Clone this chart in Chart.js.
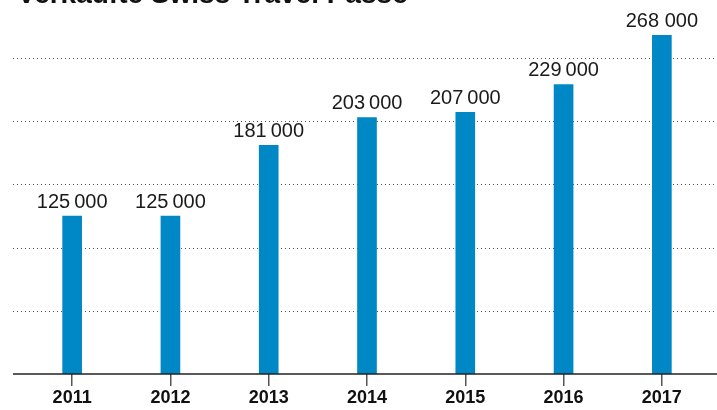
<!DOCTYPE html>
<html>
<head>
<meta charset="utf-8">
<script src="https://cdn.jsdelivr.net/npm/chart.js@4.4.1/dist/chart.umd.min.js"></script>
<style>
  html, body { margin: 0; padding: 0; background: #fff; overflow: hidden; }
  #wrap { position: relative; width: 717px; height: 410px; overflow: hidden; }
  #title { position: absolute; left: 17px; top: -20px; font: bold 28px "Liberation Sans", Arial, sans-serif; line-height: 28px; color: #111; white-space: nowrap; }
  canvas { position: absolute; left: 0; top: 0; }
</style>
</head>
<body>
<div id="wrap">
  <canvas id="c" width="717" height="410"></canvas>
  <div id="title">Verkaufte Swiss Travel Pässe</div>
</div>
<script>
const years = ['2011', '2012', '2013', '2014', '2015', '2016', '2017'];
const passesSold = [125000, 125000, 181000, 203000, 207000, 229000, 268000];
const valueLabels = ['125\u202F000', '125\u202F000', '181\u202F000', '203\u202F000', '207\u202F000', '229\u202F000', '268 000'];
const gridValues = [50000, 100000, 150000, 200000, 250000];

const extras = {
  id: 'extras',
  beforeDatasetsDraw(chart) {
    const ctx = chart.ctx, y = chart.scales.y;
    ctx.save();
    ctx.strokeStyle = '#555';
    ctx.lineWidth = 1;
    ctx.setLineDash([1, 3]);
    gridValues.forEach(v => {
      const py = Math.round(y.getPixelForValue(v)) + 0.5;
      ctx.beginPath(); ctx.moveTo(13, py); ctx.lineTo(717, py); ctx.stroke();
    });
    ctx.restore();
  },
  afterDatasetsDraw(chart) {
    const ctx = chart.ctx, y = chart.scales.y;
    ctx.save();
    const py = y.getPixelForValue(0);
    ctx.strokeStyle = '#222';
    ctx.lineWidth = 1.5;
    ctx.beginPath(); ctx.moveTo(13, py); ctx.lineTo(717, py); ctx.stroke();
    ctx.fillStyle = '#1a1a1a';
    ctx.font = '20px "Liberation Sans", Arial, sans-serif';
    ctx.textAlign = 'center';
    ctx.textBaseline = 'bottom';
    chart.getDatasetMeta(0).data.forEach((bar, i) => {
      ctx.fillText(valueLabels[i], bar.x, bar.y - 4);
    });
    ctx.restore();
  }
};

new Chart(document.getElementById('c'), {
  type: 'bar',
  data: {
    labels: years,
    datasets: [{
      data: passesSold,
      backgroundColor: '#0088c6',
      barThickness: 19,
      borderWidth: 0
    }]
  },
  options: {
    responsive: false,
    animation: false,
    layout: { padding: { left: 23, right: 6, top: 0, bottom: 0 } },
    plugins: { legend: { display: false }, tooltip: { enabled: false } },
    scales: {
      y: {
        display: false,
        min: 0,
        max: 296000
      },
      x: {
        offset: true,
        border: { display: false },
        grid: { offset: false, drawOnChartArea: false, drawTicks: true, tickLength: 12, color: '#555', lineWidth: 1.5 },
        ticks: {
          color: '#111',
          padding: 6,
          font: { family: '"Liberation Sans", Arial, sans-serif', size: 18, weight: 'bold', lineHeight: 0.67 }
        }
      }
    }
  },
  plugins: [extras]
});
</script>
</body>
</html>
